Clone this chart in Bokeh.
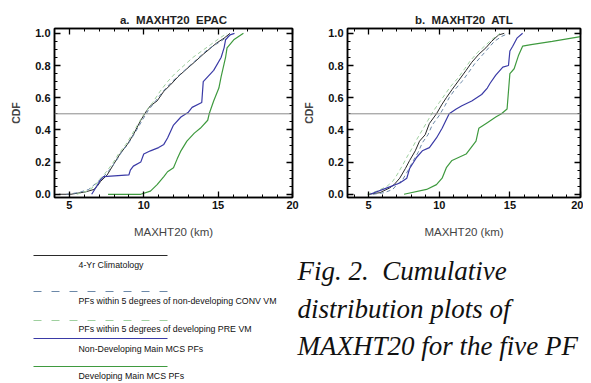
from bokeh.plotting import figure
from bokeh.models import (Range1d, Span, LinearAxis, SingleIntervalTicker, NumeralTickFormatter,
                          CustomLabelingPolicy)
from bokeh.layouts import column, row
from bokeh.embed import file_html
from bokeh.resources import INLINE
from bokeh.core.properties import value

# ---------------- data ----------------
titles = ["a.\u00a0 MAXHT20\u00a0 EPAC", "b.\u00a0 MAXHT20\u00a0 ATL"]
x_label = "MAXHT20 (km)"
y_label = "CDF"
series_names = [
    "4-Yr Climatology",
    "PFs within 5 degrees of non-developing CONV VM",
    "PFs within 5 degrees of developing PRE VM",
    "Non-Developing Main MCS PFs",
    "Developing Main MCS PFs",
]
caption_lines = ["Fig. 2.\u00a0 Cumulative", "distribution plots of", "MAXHT20 for the five PF"]

# EPAC
clim_x_a = [4.3, 5.1, 6.1, 6.65, 6.87, 7.1, 7.54, 8.0, 8.4, 8.9, 9.3, 9.8, 10.2, 10.45, 10.9, 11.35, 11.8, 12.3, 12.9, 13.4, 14.0, 14.9, 15.4, 15.8]
clim_y_a = [0.0, 0.0, 0.015, 0.03, 0.05, 0.08, 0.12, 0.19, 0.25, 0.31, 0.37, 0.46, 0.52, 0.55, 0.58, 0.64, 0.68, 0.73, 0.78, 0.82, 0.87, 0.94, 0.97, 1.0]
conv_x_a = [4.8, 5.6, 6.3, 6.8, 7.2, 7.6, 8.1, 8.5, 9.0, 9.4, 9.9, 10.3, 10.8, 11.3, 11.9, 12.5, 13.1, 13.7, 14.3, 15.0, 15.5, 16.0]
conv_y_a = [0.0, 0.01, 0.03, 0.07, 0.10, 0.14, 0.20, 0.26, 0.32, 0.38, 0.46, 0.52, 0.58, 0.64, 0.70, 0.75, 0.80, 0.85, 0.90, 0.94, 0.97, 1.0]
pre_x_a = [5.5, 6.2, 6.7, 7.0, 7.4, 7.9, 8.3, 8.8, 9.2, 9.7, 10.1, 10.6, 11.1, 11.6, 12.1, 12.7, 13.3, 13.9, 14.5, 15.1, 15.6]
pre_y_a = [0.0, 0.02, 0.05, 0.09, 0.13, 0.19, 0.25, 0.31, 0.37, 0.45, 0.51, 0.57, 0.64, 0.70, 0.75, 0.80, 0.85, 0.89, 0.93, 0.97, 1.0]
ndev_x_a = [6.5, 6.7, 7.1, 7.3, 9.0, 9.1, 9.3, 9.8, 10.0, 10.45, 11.0, 11.35, 11.6, 12.0, 12.5, 13.0, 13.25, 13.9, 14.0, 14.7, 15.2, 15.4, 15.5, 15.8, 16.1]
ndev_y_a = [0.0, 0.03, 0.09, 0.11, 0.12, 0.15, 0.175, 0.20, 0.25, 0.27, 0.29, 0.31, 0.35, 0.43, 0.48, 0.51, 0.54, 0.57, 0.70, 0.77, 0.85, 0.91, 0.96, 0.99, 1.0]
dev_x_a = [7.6, 9.8, 10.45, 10.9, 11.35, 11.6, 12.0, 12.25, 12.5, 12.9, 13.4, 13.8, 14.3, 14.4, 14.7, 15.05, 15.2, 15.4, 15.5, 15.6, 16.05, 16.7]
dev_y_a = [0.0, 0.0, 0.02, 0.06, 0.11, 0.14, 0.165, 0.22, 0.27, 0.33, 0.38, 0.41, 0.46, 0.50, 0.58, 0.66, 0.73, 0.81, 0.85, 0.91, 0.96, 1.0]

# ATL
clim_x_b = [5.0, 5.8, 6.5, 6.8, 7.2, 7.6, 7.9, 8.3, 8.6, 9.0, 9.3, 9.8, 10.2, 10.5, 10.9, 11.4, 11.9, 12.3, 12.8, 13.3, 13.7, 14.2, 14.6]
clim_y_b = [0.0, 0.01, 0.04, 0.06, 0.10, 0.16, 0.21, 0.27, 0.33, 0.37, 0.44, 0.50, 0.56, 0.60, 0.65, 0.71, 0.77, 0.82, 0.87, 0.91, 0.95, 0.99, 1.0]
conv_x_b = [5.3, 6.1, 6.7, 7.0, 7.4, 7.8, 8.1, 8.5, 8.8, 9.2, 9.5, 10.0, 10.4, 10.7, 11.1, 11.6, 12.1, 12.5, 13.0, 13.5, 13.9, 14.4, 14.9]
conv_y_b = [0.0, 0.01, 0.03, 0.06, 0.09, 0.15, 0.20, 0.26, 0.32, 0.37, 0.43, 0.49, 0.55, 0.60, 0.65, 0.70, 0.76, 0.81, 0.86, 0.91, 0.95, 0.98, 1.0]
pre_x_b = [4.9, 5.6, 6.3, 6.7, 7.0, 7.4, 7.7, 8.1, 8.4, 8.8, 9.2, 9.6, 10.0, 10.4, 10.8, 11.3, 11.8, 12.2, 12.7, 13.2, 13.7, 14.3]
pre_y_b = [0.0, 0.02, 0.05, 0.08, 0.12, 0.18, 0.23, 0.29, 0.34, 0.40, 0.46, 0.52, 0.57, 0.62, 0.67, 0.72, 0.78, 0.83, 0.88, 0.92, 0.96, 1.0]
ndev_x_b = [5.1, 6.3, 7.2, 7.7, 7.9, 8.4, 8.8, 9.3, 9.8, 10.2, 10.7, 11.2, 11.6, 12.3, 13.0, 13.4, 13.6, 14.0, 14.5, 14.9, 15.0, 15.2, 15.5, 15.9]
ndev_y_b = [0.0, 0.04, 0.07, 0.10, 0.16, 0.23, 0.27, 0.29, 0.35, 0.41, 0.50, 0.53, 0.55, 0.58, 0.62, 0.66, 0.69, 0.74, 0.79, 0.80, 0.89, 0.92, 0.97, 1.0]
dev_x_b = [7.5, 9.1, 9.8, 10.2, 10.5, 10.9, 11.9, 12.6, 12.8, 13.4, 14.0, 14.4, 14.8, 15.0, 15.3, 15.6, 15.9, 16.5, 18.0, 20.0]
dev_y_b = [0.0, 0.03, 0.06, 0.10, 0.165, 0.21, 0.25, 0.33, 0.41, 0.445, 0.48, 0.50, 0.53, 0.75, 0.78, 0.86, 0.92, 0.93, 0.95, 0.98]

median_level = 0.5

# ---------------- styles ----------------
STYLES = [
    dict(color="#2a2a2a", width=1.0, dash="solid"),
    dict(color="#6b88a8", width=1.0, dash="4 3"),
    dict(color="#9fd09f", width=1.0, dash="4 3"),
    dict(color="#3a3aa6", width=1.2, dash="solid"),
    dict(color="#3f9a3f", width=1.2, dash="solid"),
]
SANS = "Liberation Sans"
HIDE_ALL = "for (const i of indices) indices.unset(i)"


def style_axis(ax, labels=True):
    ax.axis_line_color = "black"
    ax.axis_line_width = 1.5
    ax.major_tick_in = 6
    ax.major_tick_out = 0
    ax.minor_tick_in = 3
    ax.minor_tick_out = 0
    ax.major_tick_line_width = 1.3
    ax.minor_tick_line_width = 1.0
    if labels:
        ax.major_label_text_font = SANS
        ax.major_label_text_font_size = "11px"
        ax.major_label_text_font_style = "bold"
        ax.major_label_text_color = "#111111"
    else:
        ax.major_label_text_font_size = "0px"
        ax.major_label_standoff = 0
        ax.major_label_policy = CustomLabelingPolicy(code=HIDE_ALL)


def make_panel(title, xr, series, width, bl, br, title_offset):
    p = figure(width=width, height=240, x_range=Range1d(*xr), y_range=Range1d(-0.02, 1.03),
               output_backend="svg", toolbar_location=None,
               min_border_left=bl, min_border_right=br, min_border_top=28, min_border_bottom=10,
               x_axis_label=x_label, y_axis_label=y_label)
    p.xgrid.visible = False
    p.ygrid.visible = False
    p.outline_line_color = "black"
    p.outline_line_width = 1.5
    p.background_fill_color = "white"
    p.border_fill_color = "white"

    p.xaxis.ticker = SingleIntervalTicker(interval=5, num_minor_ticks=5)
    p.yaxis.ticker = SingleIntervalTicker(interval=0.2, num_minor_ticks=4)
    p.yaxis.formatter = NumeralTickFormatter(format="0.0")
    style_axis(p.xaxis[0])
    style_axis(p.yaxis[0])
    p.xaxis.major_label_standoff = 3
    p.yaxis.major_label_standoff = 4
    p.xaxis.axis_label_standoff = 14
    p.yaxis.axis_label_standoff = 10
    p.xaxis.axis_label_text_font = SANS
    p.xaxis.axis_label_text_font_size = "11.5px"
    p.xaxis.axis_label_text_font_style = "normal"
    p.yaxis.axis_label_text_font = SANS
    p.yaxis.axis_label_text_font_size = "10.5px"
    p.yaxis.axis_label_text_font_style = "bold"

    top = LinearAxis(ticker=SingleIntervalTicker(interval=5, num_minor_ticks=5))
    style_axis(top, labels=False)
    p.add_layout(top, "above")
    right = LinearAxis(ticker=SingleIntervalTicker(interval=0.2, num_minor_ticks=4))
    style_axis(right, labels=False)
    p.add_layout(right, "right")

    p.title.text = title
    p.title.align = "center"
    p.title.offset = title_offset
    p.title.text_font = SANS
    p.title.text_font_size = "11.5px"
    p.title.text_font_style = "bold"
    p.title.text_color = "#222222"
    p.title.standoff = 6

    p.add_layout(Span(location=median_level, dimension="width", line_color="#8a8a8a", line_width=1))

    for (xs, ys), st in zip(series, STYLES):
        p.line(xs, ys, line_color=st["color"], line_width=st["width"], line_dash=st["dash"])
    return p


p1 = make_panel(titles[0], (4, 20),
                [(clim_x_a, clim_y_a), (conv_x_a, conv_y_a), (pre_x_a, pre_y_a),
                 (ndev_x_a, ndev_y_a), (dev_x_a, dev_y_a)], 300, 54, 8, 16)
p2 = make_panel(titles[1], (3.5, 20),
                [(clim_x_b, clim_y_b), (conv_x_b, conv_y_b), (pre_x_b, pre_y_b),
                 (ndev_x_b, ndev_y_b), (dev_x_b, dev_y_b)], 283, 43, 3, 18)

# ---------------- legend + caption panel (pixel coordinates of the picture) ----------------
p3 = figure(width=583, height=141, x_range=Range1d(0, 583), y_range=Range1d(381, 240),
            output_backend="svg", toolbar_location=None, min_border=0)
p3.axis.visible = False
p3.xgrid.visible = False
p3.ygrid.visible = False
p3.outline_line_color = None

leg_line_y = [255, 291, 320, 338, 366]
leg_text_y = [264, 300, 328, 348, 375]
LEG_X0, LEG_X1, LEG_TX = 33, 167, 78
for name, ly, ty, st in zip(series_names, leg_line_y, leg_text_y, STYLES):
    dash = "8 10" if st["dash"] != "solid" else "solid"
    p3.segment(x0=[LEG_X0], y0=[ly], x1=[LEG_X1], y1=[ly], line_color=st["color"],
               line_width=1, line_dash=dash)
    p3.text(x=[LEG_TX], y=[ty], text=[name], text_font=value(SANS), text_font_size="8.8px",
            text_baseline="middle", text_align="left", text_color="#111111")

cap_y = [270, 308, 345]
p3.text(x=[297] * len(caption_lines), y=cap_y, text=caption_lines,
        text_font=value("Liberation Serif"), text_font_size="27px", text_font_style="italic",
        text_baseline="middle", text_align="left", text_color="#111111")

layout = column(row(p1, p2), p3)
open("out.html", "w").write(file_html(layout, INLINE))
